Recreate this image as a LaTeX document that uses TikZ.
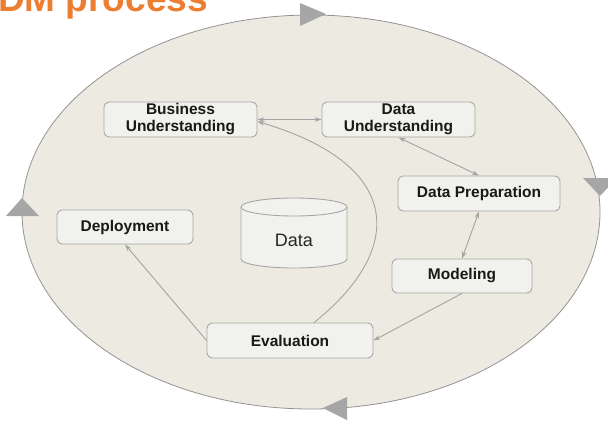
\documentclass[tikz,border=0pt]{standalone}
\usepackage{fontspec}
\setmainfont{Liberation Sans}
\usetikzlibrary{arrows.meta}
\definecolor{bgbeige}{HTML}{EDEBE1}
\definecolor{boxfill}{HTML}{F1F1ED}
\definecolor{boxline}{HTML}{A6A6A6}
\definecolor{conn}{HTML}{A3A3A3}
\definecolor{tri}{HTML}{A6A6A6}
\definecolor{titleorange}{HTML}{ED7D31}
\newcommand{\twoline}[2]{\raisebox{-1.5pt}{\begin{tabular}{@{}c@{}}#1\\#2\end{tabular}}}
\tikzset{
  stagebox/.style={draw=boxline, line width=0.9pt, fill=boxfill, rounded corners=5pt,
    font=\fontsize{15.5}{16.5}\selectfont\bfseries, align=center, inner sep=0pt, text=black!90},
  conn/.style={draw=conn, line width=0.9pt, -{Stealth[length=7pt,width=4.5pt]}},
  dconn/.style={draw=conn, line width=0.9pt, {Stealth[length=7pt,width=4.5pt]}-{Stealth[length=7pt,width=4.5pt]}},
  cyctri/.style={fill=tri, draw=none}
}
\begin{document}
\begin{tikzpicture}[x=1pt,y=-1pt]
\useasboundingbox (0,0) rectangle (608,421);
% title (cut off at top)
\node[anchor=base west, inner sep=0pt, text=titleorange, font=\fontsize{37}{40}\selectfont\bfseries] (title) at (-2,11) {DM process};
% big ellipse
\draw[fill=bgbeige, draw=gray!85, line width=0.8pt] (311,212) ellipse [x radius=289, y radius=197];
% cycle triangles
\fill[cyctri] (300,3) -- (300,26) -- (326,14) -- cycle;
\fill[cyctri] (583,178) -- (617,178) -- (600,196) -- cycle;
\fill[cyctri] (6,216) -- (39,216) -- (22,198) -- cycle;
\fill[cyctri] (347,397) -- (347,420) -- (323,408) -- cycle;
% stage boxes
\node[stagebox, minimum width=153, minimum height=35] (bu) at (180.5,119.5) {\twoline{Business}{Understanding}};
\node[stagebox, minimum width=153, minimum height=35] (du) at (398.5,119.5) {\twoline{Data}{Understanding}};
\node[stagebox, minimum width=162, minimum height=35] (dp) at (479,193.5) {Data Preparation};
\node[stagebox, minimum width=140, minimum height=34] (mod) at (462,276) {Modeling};
\node[stagebox, minimum width=166, minimum height=35] (ev) at (290,340.5) {Evaluation};
\node[stagebox, minimum width=136, minimum height=34] (dep) at (125,227) {Deployment};
% data cylinder
\draw[draw=boxline, line width=0.9pt, fill=boxfill]
  (241,207) -- (241,259) arc[start angle=180, end angle=0, x radius=53, y radius=9]
  -- (347,207) arc[start angle=0, end angle=-180, x radius=53, y radius=9] -- cycle;
\draw[draw=boxline, line width=0.9pt] (241,207) arc[start angle=180, end angle=0, x radius=53, y radius=9];
\node[font=\fontsize{18}{20}\selectfont, text=black!85] (data) at (294,240) {Data};
% connectors
\draw[dconn] (bu.east) -- (du.west);
\draw[dconn] (du.south) -- (dp.north);
\draw[dconn] (dp.south) -- (mod.north);
\draw[conn] (mod.south) -- (ev.east);
\draw[conn] (ev.west) -- (dep.south);
\draw[conn] ([xshift=24pt]ev.north) .. controls (405,250) and (405,165) .. ([yshift=-2pt]bu.east);
\end{tikzpicture}
\end{document}
